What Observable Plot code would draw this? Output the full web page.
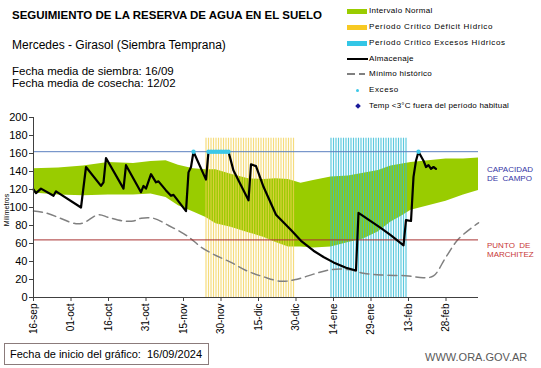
<!DOCTYPE html>
<html><head><meta charset="utf-8">
<script src="https://cdn.jsdelivr.net/npm/d3@7"></script>
<script src="https://cdn.jsdelivr.net/npm/@observablehq/plot@0.6"></script>
<style>
body{margin:0;background:#fff;font-family:"Liberation Sans",Arial,sans-serif;}
#wrap{position:relative;width:541px;height:368px;overflow:hidden;background:#fff;}
#wrap svg{position:absolute;left:0;top:0;}
.t{position:absolute;white-space:nowrap;color:#000;}
.sw{position:absolute;}
</style></head><body><div id="wrap"></div>
<script>
// ---- data ----
const domainStart = "2024-09-16", domainEnd = "2025-03-13";
const capacidadCampo = 162;
const puntoMarchitez = 64;

const almDates = ["2024-09-16","2024-09-17","2024-09-19","2024-09-24","2024-09-25","2024-10-05","2024-10-07","2024-10-13","2024-10-14","2024-10-15","2024-10-22","2024-10-23","2024-10-29","2024-10-30","2024-10-31","2024-11-02","2024-11-04","2024-11-05","2024-11-08","2024-11-10","2024-11-11","2024-11-16","2024-11-17","2024-11-18","2024-11-19","2024-11-24","2024-11-25","2024-12-03","2024-12-05","2024-12-11","2024-12-12","2024-12-14","2024-12-17","2024-12-22","2024-12-28","2025-01-01","2025-01-06","2025-01-10","2025-01-14","2025-01-19","2025-01-23","2025-01-24","2025-02-02","2025-02-06","2025-02-11","2025-02-12","2025-02-14","2025-02-15","2025-02-16","2025-02-17","2025-02-19","2025-02-20","2025-02-21","2025-02-22","2025-02-23","2025-02-24"];
const almValues = [120,116,121,113,118,100,145,124,128,155,121,147,117,124,121,137,128,129,119,113,114,96,139,145,162,131,162,162,141,108,148,146,123,92,75,63,52,45,39,33,30,94,77,69,58,86,85,134,152,162,152,145,147,143,145,143];

const bandDates = ["2024-09-16","2024-09-26","2024-10-06","2024-10-16","2024-10-26","2024-11-02","2024-11-08","2024-11-13","2024-11-19","2024-11-24","2024-11-28","2024-12-04","2024-12-11","2024-12-17","2024-12-22","2024-12-27","2025-01-01","2025-01-06","2025-01-13","2025-01-20","2025-01-26","2025-02-01","2025-02-06","2025-02-10","2025-02-14","2025-02-21","2025-02-28","2025-03-07","2025-03-13"];
const bandUpper = [143,144,146,150,149,151,152,147,143,142,142,137,132,131,132,131,127,130,134,135,138,141,146,148,150,152,154,154,155];
const bandLower = [116,114,113,114,114,115,111,102,95,89,82,78,72,67,61,56,56,55,56,61,65,73,84,90,97,102,107,114,119];

const minDates = ["2024-09-16","2024-09-21","2024-10-03","2024-10-06","2024-10-12","2024-10-16","2024-10-22","2024-10-26","2024-10-29","2024-11-03","2024-11-09","2024-11-15","2024-11-19","2024-11-22","2024-11-27","2024-12-04","2024-12-10","2024-12-17","2024-12-24","2024-12-30","2025-01-06","2025-01-13","2025-01-20","2025-01-26","2025-02-02","2025-02-13","2025-02-19","2025-02-23","2025-02-28","2025-03-05","2025-03-13"];
const minValues = [96,94,82,83,92,89,85,85,88,88,80,71,63,56,48,39,30,23,18,20,26,31,31,27,25,24,22,24,45,65,83];

const excesoDates = ["2024-11-19","2024-11-25","2024-11-26","2024-11-27","2024-11-28","2024-11-29","2024-11-30","2024-12-01","2024-12-02","2024-12-03","2025-02-17"];

const deficitPeriod = ["2024-11-24","2024-12-29"];
const excesosPeriod = ["2025-01-13","2025-02-12"];
const periodTop = 177;

const xTickDates = ["2024-09-16","2024-10-01","2024-10-16","2024-10-31","2024-11-15","2024-11-30","2024-12-15","2024-12-30","2025-01-14","2025-01-29","2025-02-13","2025-02-28"];
const xTickLabels = ["16-sep","01-oct","16-oct","31-oct","15-nov","30-nov","15-dic","30-dic","14-ene","29-ene","13-feb","28-feb"];
const yTicks = [0,20,40,60,80,100,120,140,160,180,200];

// ---- build ----
const P = d3.isoParse;
const alm = almDates.map((d,i)=>({date:P(d), v:almValues[i]}));
const band = bandDates.map((d,i)=>({date:P(d), lo:bandLower[i], hi:bandUpper[i]}));
const minH = minDates.map((d,i)=>({date:P(d), v:minValues[i]}));
const exc = excesoDates.map(d=>({date:P(d)}));
const defDays = d3.utcDays(P(deficitPeriod[0]), d3.utcDay.offset(P(deficitPeriod[1]),1));
const excDays = d3.utcDays(P(excesosPeriod[0]), d3.utcDay.offset(P(excesosPeriod[1]),1));
const labelMap = new Map(xTickDates.map((d,i)=>[+P(d), xTickLabels[i]]));

const chart = Plot.plot({
  width: 541, height: 368,
  marginTop: 117, marginBottom: 71, marginLeft: 33, marginRight: 63,
  x: {type: "utc", domain: [P(domainStart), P(domainEnd)]},
  y: {domain: [0, 200]},
  style: {fontFamily: "'Liberation Sans', Arial, sans-serif", background: "transparent", color: "#000"},
  marks: [
    Plot.areaY(band, {x: "date", y1: "lo", y2: "hi", fill: "#99cc00", curve: "linear"}),
    Plot.ruleX(defDays, {y1: 0, y2: periodTop, stroke: "#f2d050", strokeWidth: 1.2, strokeOpacity: 0.75}),
    Plot.ruleX(excDays, {y1: 0, y2: periodTop, stroke: "#33bcd6", strokeWidth: 1.2, strokeOpacity: 0.8}),
    Plot.lineY(minH, {x: "date", y: "v", stroke: "#808080", strokeWidth: 1.5, strokeDasharray: "9,5", curve: "catmull-rom"}),
    Plot.ruleY([capacidadCampo], {stroke: "#5b7fbf", strokeWidth: 1}),
    Plot.ruleY([puntoMarchitez], {stroke: "#a83232", strokeWidth: 1}),
    Plot.lineY(alm, {x: "date", y: "v", stroke: "#000", strokeWidth: 2.2, strokeLinejoin: "round"}),
    Plot.dot(exc, {x: "date", y: capacidadCampo, r: 2.2, fill: "#3cc8e8", stroke: "none"}),
    Plot.ruleX([P(domainStart)], {y1: 0, y2: 200, stroke: "#404040", strokeWidth: 1}),
    Plot.ruleY([0], {stroke: "#404040", strokeWidth: 1}),
    Plot.axisY({ticks: yTicks, tickSize: 4, tickPadding: 2, fontSize: 11, label: null, stroke: "#404040"}),
    Plot.axisX({ticks: xTickDates.map(P), tickFormat: d => labelMap.get(+d), tickRotate: -90, tickSize: 4, tickPadding: 2, fontSize: 10, label: null, stroke: "#404040"})
  ]
});
const wrap = document.getElementById("wrap");
wrap.appendChild(chart);

function txt(s, x, y, css){ const e=document.createElement("div"); e.className="t"; e.textContent=s; e.style.left=x+"px"; e.style.top=y+"px"; if(css) e.style.cssText+=css; wrap.appendChild(e); return e; }
function box(x,y,w,h,css){ const e=document.createElement("div"); e.className="sw"; e.style.left=x+"px"; e.style.top=y+"px"; e.style.width=w+"px"; e.style.height=h+"px"; e.style.cssText+=css; wrap.appendChild(e); return e; }

txt("SEGUIMIENTO DE LA RESERVA DE AGUA  EN EL SUELO", 12, 8, "font-size:11.5px;font-weight:bold;line-height:14px;");
txt("Mercedes - Girasol (Siembra Temprana)", 12, 38, "font-size:12px;line-height:14px;");
txt("Fecha media de siembra: 16/09", 12, 66, "font-size:11.5px;line-height:11px;");
txt("Fecha media de cosecha: 12/02", 12, 77.5, "font-size:11.5px;line-height:11px;");

// legend
const lgX = 369;
const rows = [11,27,43,59,74,90,106];
box(347, rows[0]-2.5, 20, 5, "background:#99cc00;");
box(347, rows[1]-2.5, 20, 5, "background:#f7c922;");
box(347, rows[2]-2.5, 20, 5, "background:#33c6e6;");
box(347, rows[3]-1, 21, 2, "background:#000;");
box(347, rows[4]-0.75, 8, 1.5, "background:#808080;");
box(359, rows[4]-0.75, 6, 1.5, "background:#808080;");
box(356, rows[5]-1.5, 3, 3, "background:#3cc8e8;border-radius:50%;");
box(355.5, rows[6]-2, 4, 4, "background:#1a1a9a;transform:rotate(45deg);");
const lgTexts = ["Intervalo Normal","Período Crítico Déficit Hídrico","Período Crítico Excesos Hídricos","Almacenaje","Mínimo histórico","Exceso","Temp <3°C fuera del período habitual"];
const lgSpacing = [0.3,0.6,0.6,0.3,0.3,0.6,0.2];
lgTexts.forEach((s,i)=>txt(s, lgX, rows[i]-5, "font-size:8px;letter-spacing:"+lgSpacing[i]+"px;line-height:10px;"));

// right labels
txt("CAPACIDAD", 487, 165, "font-size:8px;line-height:9px;color:#3535a5;");
txt("DE  CAMPO", 487, 174, "font-size:8px;line-height:9px;color:#3535a5;white-space:pre;");
txt("PUNTO  DE", 487, 241, "font-size:8px;line-height:9px;color:#c83838;white-space:pre;");
txt("MARCHITEZ", 487, 250, "font-size:8px;line-height:9px;color:#c83838;");

// y label
txt("Milímetros", 6.5, 210, "font-size:7px;line-height:8px;transform:translate(-50%,-50%) rotate(-90deg);");

// bottom
box(4, 343, 205, 22, "border:1px solid #8b7b7b;box-sizing:border-box;");
txt("Fecha de inicio del gráfico:  16/09/2024", 10, 347.5, "font-size:11px;line-height:13px;white-space:pre;");
txt("WWW.ORA.GOV.AR", 425, 351, "font-size:11px;line-height:13px;color:#595959;");
</script></body></html>
